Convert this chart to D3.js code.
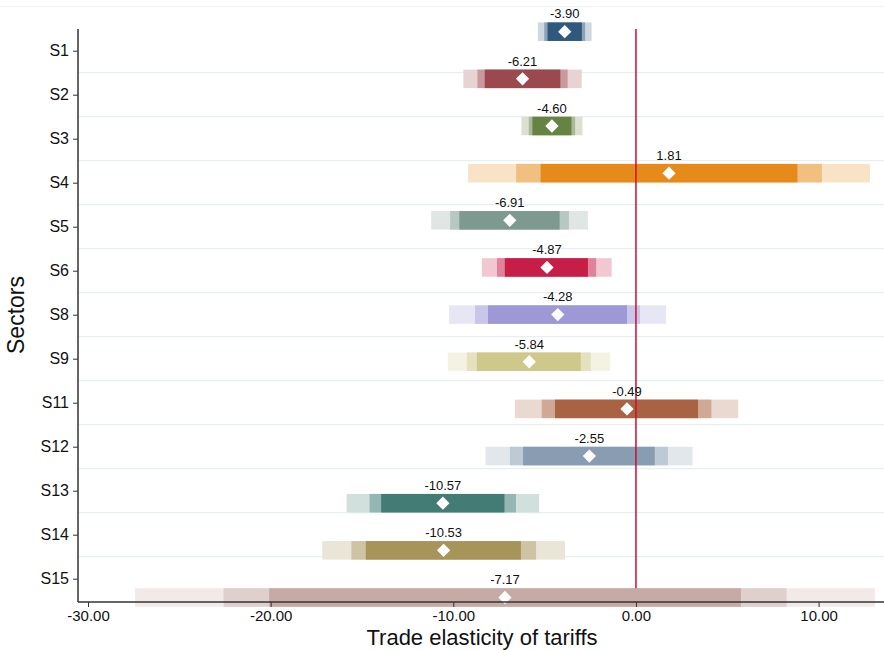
<!DOCTYPE html>
<html>
<head>
<meta charset="utf-8">
<script src="https://cdn.jsdelivr.net/npm/d3@7"></script>
<style>
  body { margin: 0; background: #fff; }
  svg { display: block; font-family: "Liberation Sans", Arial, sans-serif; }
</style>
</head>
<body>
<div id="chart"></div>
<script>
// sectors and estimates
const sectors = ["S1", "S2", "S3", "S4", "S5", "S6", "S8", "S9", "S11", "S12", "S13", "S14", "S15"];
const estimates = [-3.90, -6.21, -4.60, 1.81, -6.91, -4.87, -4.28, -5.84, -0.49, -2.55, -10.57, -10.53, -7.17];
const lo90 = [-4.84, -8.28, -5.67, -5.22, -9.67, -7.18, -8.10, -8.71, -4.43, -6.18, -13.95, -14.79, -20.08];
const hi90 = [-2.96, -4.14, -3.53, 8.84, -4.18, -2.63, -0.49, -3.02, 3.40, 1.03, -7.20, -6.30, 5.75];
const lo95 = [-5.02, -8.68, -5.87, -6.56, -10.17, -7.61, -8.81, -9.26, -5.16, -6.90, -14.58, -15.58, -22.58];
const hi95 = [-2.78, -3.74, -3.33, 10.18, -3.67, -2.18, 0.22, -2.47, 4.13, 1.75, -6.57, -5.47, 8.25];
const lo99 = [-5.37, -9.45, -6.27, -9.19, -11.21, -8.44, -10.23, -10.30, -6.63, -8.24, -15.84, -17.17, -27.42];
const hi99 = [-2.43, -2.97, -2.93, 12.81, -2.63, -1.33, 1.65, -1.41, 5.60, 3.10, -5.30, -3.88, 13.08];
const xTicks = [-30, -20, -10, 0, 10];

const colors = ["#1a476f", "#90353b", "#55752f", "#e37e00", "#6e8e84", "#c10534", "#938dd2",
    "#cac27e", "#a0522d", "#7b92a8", "#2d6d66", "#9c8847", "#bfa19c"];

let drawChart = function () {
    const w = 884, h = 650;
    const left = 78, axisY = 602, top = 29;

    const svg = d3.select('#chart').append('svg')
        .attr('width', w)
        .attr('height', h);

    const x = d3.scaleLinear().domain([-30, 10]).range([88, 818.6]);
    // tick labels and the bars sit on slightly different spacings in the original
    const yTick = d3.scalePoint().domain(sectors).range([50.7, 578.7]);
    const yBar = d3.scalePoint().domain(sectors).range([31.7, 597.5]);
    const step = yTick.step();
    const barH = 18.5;

    const rows = sectors.map((s, i) => ({
        s: s, est: estimates[i], color: colors[i],
        bands: [
            { lo: lo99[i], hi: hi99[i], t: 0.22 },
            { lo: lo95[i], hi: hi95[i], t: 0.5 },
            { lo: lo90[i], hi: hi90[i], t: 0.9 }
        ]
    }));

    // faint top border line
    svg.append('line')
        .attr('x1', 0).attr('x2', w)
        .attr('y1', yTick(sectors[0]) - step).attr('y2', yTick(sectors[0]) - step)
        .attr('stroke', '#eef2f4')
        .attr('stroke-width', 1);

    // gridlines between categories
    svg.selectAll('line.grid')
        .data(sectors.slice(0, -1))
        .enter()
        .append('line')
        .attr('class', 'grid')
        .attr('x1', left).attr('x2', w)
        .attr('y1', d => yTick(d) + step / 2)
        .attr('y2', d => yTick(d) + step / 2)
        .attr('stroke', '#e6eff2')
        .attr('stroke-width', 1.2);

    // interval bars
    const g = svg.selectAll('g.row')
        .data(rows)
        .enter()
        .append('g')
        .attr('class', 'row');

    g.selectAll('rect')
        .data(d => d.bands.map(b => Object.assign({ color: d.color, s: d.s }, b)))
        .enter()
        .append('rect')
        .attr('x', d => x(d.lo))
        .attr('width', d => x(d.hi) - x(d.lo))
        .attr('y', d => yBar(d.s) - barH / 2)
        .attr('height', barH)
        .attr('fill', d => d3.interpolateRgb('#ffffff', d.color)(d.t));

    // reference line at zero
    svg.append('line')
        .attr('x1', x(0)).attr('x2', x(0))
        .attr('y1', top).attr('y2', yBar(sectors[sectors.length - 1]) - barH / 2)
        .attr('stroke', '#c8102e')
        .attr('stroke-width', 1.5);

    // point estimates
    svg.selectAll('path.pt')
        .data(rows)
        .enter()
        .append('path')
        .attr('class', 'pt')
        .attr('d', d3.symbol(d3.symbolSquare, 88)())
        .attr('transform', d => `translate(${x(d.est)},${yBar(d.s)}) rotate(45)`)
        .attr('fill', '#fff');

    svg.selectAll('text.lbl')
        .data(rows)
        .enter()
        .append('text')
        .attr('class', 'lbl')
        .attr('x', d => x(d.est))
        .attr('y', d => yBar(d.s) - barH / 2 - 4)
        .attr('text-anchor', 'middle')
        .attr('font-size', 13)
        .attr('fill', '#111')
        .text(d => d.est.toFixed(2));

    // x axis
    const xAxis = svg.append('g')
        .attr('transform', `translate(0,${axisY})`)
        .call(d3.axisBottom(x).tickValues(xTicks).tickSize(5).tickFormat(d => d.toFixed(2)));
    xAxis.select('.domain').remove();
    xAxis.selectAll('line').attr('stroke', '#333');
    xAxis.selectAll('text')
        .attr('font-size', 15)
        .attr('fill', '#111');
    svg.append('line')
        .attr('x1', left).attr('x2', w)
        .attr('y1', axisY).attr('y2', axisY)
        .attr('stroke', '#333')
        .attr('stroke-width', 1.5);

    // y axis
    const yAxis = svg.append('g')
        .attr('transform', `translate(${left},0)`)
        .call(d3.axisLeft(yTick).tickSize(5).tickPadding(4));
    yAxis.select('.domain').remove();
    yAxis.selectAll('line').attr('stroke', '#333');
    yAxis.selectAll('text')
        .attr('font-size', 16)
        .attr('fill', '#111');
    svg.append('line')
        .attr('x1', left).attr('x2', left)
        .attr('y1', top).attr('y2', axisY)
        .attr('stroke', '#333')
        .attr('stroke-width', 1.5);

    // axis titles
    svg.append('text')
        .attr('x', 482)
        .attr('y', 645)
        .attr('text-anchor', 'middle')
        .attr('font-size', 22)
        .attr('fill', '#111')
        .text('Trade elasticity of tariffs');

    svg.append('text')
        .attr('transform', 'translate(24,315) rotate(-90)')
        .attr('text-anchor', 'middle')
        .attr('font-size', 23)
        .attr('fill', '#111')
        .text('Sectors');
}

drawChart();
</script>
</body>
</html>
